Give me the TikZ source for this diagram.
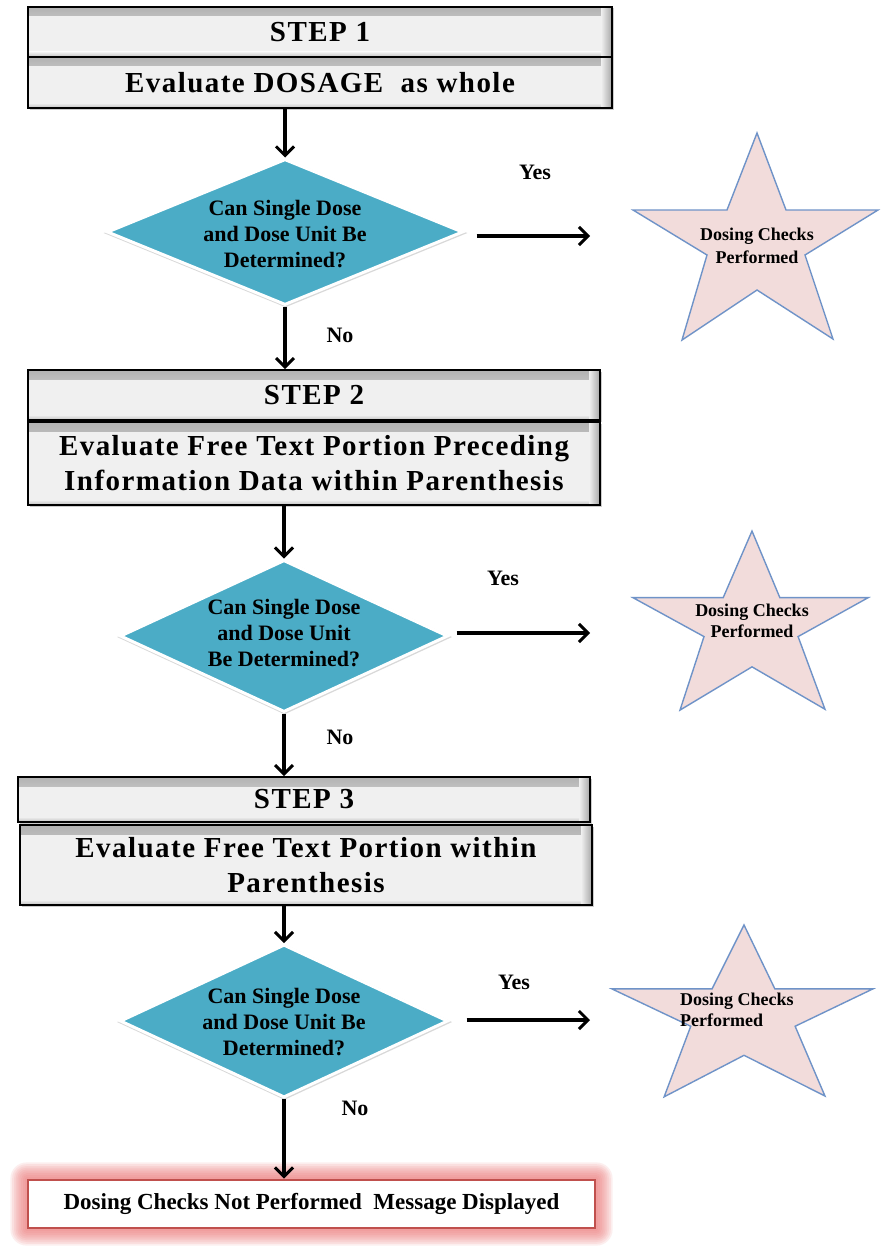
\documentclass[tikz,border=0pt]{standalone}
\usepackage{fontspec}
\setmainfont{Liberation Serif}
\newfontfamily\spacedfont[LetterSpace=5]{Liberation Serif}
\usetikzlibrary{arrows.meta,shapes.geometric,shadows,calc}
\pgfdeclarelayer{background}
\pgfsetlayers{background,main}

\definecolor{boxgray}{HTML}{F0F0F0}
\definecolor{decfill}{HTML}{4BACC6}
\definecolor{starfill}{HTML}{F2DCDB}
\definecolor{starline}{HTML}{6F93C8}
\definecolor{alertline}{HTML}{C0504D}
\definecolor{alertglow}{HTML}{EE7C7C}

\tikzset{
  stepbox/.style={draw=black, line width=1.6pt, fill=boxgray, align=center, inner sep=0pt,
    font=\spacedfont\bfseries\fontsize{29}{35}\selectfont,
    drop shadow={shadow xshift=1.5pt, shadow yshift=-1.5pt, opacity=0.4},
    path picture={
      \shade[top color=black!30, bottom color=boxgray]
        (path picture bounding box.north west) rectangle ($(path picture bounding box.north east)+(0,9)$);
      \shade[left color=boxgray, right color=black!35]
        ($(path picture bounding box.north east)+(-11,0)$) rectangle (path picture bounding box.south east);
      \shade[top color=boxgray, bottom color=black!25]
        ($(path picture bounding box.south west)+(0,-5)$) rectangle ($(path picture bounding box.south east)+(-11,0)$);}},
  decision/.style={diamond, fill=decfill, draw=white, line width=3pt, inner sep=0pt,
    drop shadow={shadow xshift=0.5pt, shadow yshift=-1pt, shadow scale=1.025, opacity=0.3}},
  decisiontext/.style={align=center, inner sep=0pt, font=\bfseries\fontsize{22}{26}\selectfont},
  startext/.style={inner sep=0pt, font=\bfseries\fontsize{18}{23}\selectfont},
  answer/.style={inner sep=0pt, font=\bfseries\fontsize{22}{26}\selectfont},
  flow/.style={line width=3.2pt, -{Straight Barb[length=9pt,width=18pt,line width=3pt]}},
  alertbox/.style={draw=alertline, line width=2.8pt, fill=white, inner sep=0pt,
    font=\bfseries\fontsize{23}{27}\selectfont},
  checkstar/.pic={
    \draw[draw=starline, line width=1.4pt, fill=starfill, line join=miter]
      (0,-107) -- (29,-30) -- (121,-30) -- (48,15) -- (76,99) -- (0,50)
      -- (-75,100) -- (-50,15) -- (-124,-30) -- (-30,-30) -- cycle;}
}

\begin{document}
\begin{tikzpicture}[x=1pt, y=-1pt]
\useasboundingbox (0,0) rectangle (882,1247);

% step 1
\node[stepbox, minimum width=584, minimum height=50] (h1) at (320,32) {STEP 1};
\node[stepbox, minimum width=584, minimum height=51] (b1) at (320,82.5) {Evaluate DOSAGE~ as whole};

% decision 1
\node[decision, minimum width=356, minimum height=146] (d1) at (285,232) {};
\node[decisiontext] (d1t) at (285,234) {Can Single Dose\\and Dose Unit Be\\Determined?};
\pic at (757,240) {checkstar};
\node[startext, align=center] (s1) at (757,246) {Dosing Checks\\Performed};
\node[answer] (yes1) at (535,172) {Yes};
\node[answer] (no1) at (340,335) {No};

% step 2
\node[stepbox, minimum width=572, minimum height=50] (h2) at (314,395) {STEP 2};
\node[stepbox, minimum width=572, minimum height=83] (b2) at (314,463.5)
  {Evaluate Free Text Portion Preceding\\Information Data within Parenthesis};

% decision 2
\node[decision, minimum width=328, minimum height=152] (d2) at (284,636) {};
\node[decisiontext] (d2t) at (284,633) {Can Single Dose\\and Dose Unit\\Be Determined?};
\pic[xscale=0.96, yscale=0.865] at (752,623.6) {checkstar};
\node[startext, align=center, font=\bfseries\fontsize{18}{21}\selectfont] (s2) at (752,621) {Dosing Checks\\Performed};
\node[answer] (yes2) at (503,578) {Yes};
\node[answer] (no2) at (340,737) {No};

% step 3
\node[stepbox, minimum width=572, minimum height=45] (h3) at (304,799.5) {STEP 3};
\node[stepbox, minimum width=572, minimum height=80] (b3) at (306,865)
  {Evaluate Free Text Portion within\\Parenthesis};

% decision 3
\node[decision, minimum width=328, minimum height=153] (d3) at (284,1021) {};
\node[decisiontext] (d3t) at (284,1022) {Can Single Dose\\and Dose Unit Be\\Determined?};
\pic[xscale=1.065, yscale=0.83] at (744,1013.8) {checkstar};
\node[startext, align=left, anchor=west, font=\bfseries\fontsize{18}{21}\selectfont] (s3) at (680,1010) {Dosing Checks\\Performed};
\node[answer] (yes3) at (514,982) {Yes};
\node[answer] (no3) at (355,1108) {No};

% final outcome with soft red glow behind it
\node[alertbox, minimum width=567, minimum height=48] (fin) at (311.5,1204)
  {Dosing Checks Not Performed~ Message Displayed};
\begin{pgfonlayer}{background}
  \fill[white] (0,0) rectangle (882,1247);
  \foreach \g in {1,...,9}
    \fill[alertglow, opacity=0.13, rounded corners=\g*1.8pt]
      ($(fin.north west)+(-\g*1.8,-\g*1.8)$) rectangle ($(fin.south east)+(\g*1.8,\g*1.8)$);
\end{pgfonlayer}

% connectors
\coordinate (y1) at (590,236);
\coordinate (y2) at (590,633);
\coordinate (y3) at (590,1020);
\draw[flow] (b1.south -| d1.north) -- (d1.north);
\draw[flow] (d1.south) -- (d1.south |- h2.north);
\draw[flow] (b2.south -| d2.north) -- (d2.north);
\draw[flow] (d2.south) -- (d2.south |- h3.north);
\draw[flow] (b3.south -| d3.north) -- (d3.north);
\draw[flow] (d3.south) -- (d3.south |- fin.north);
\draw[flow] ($(d1.east)+(12,4)$) -- (y1);
\draw[flow] ($(d2.east)+(7,-3)$) -- (y2);
\draw[flow] ($(d3.east)+(17,-1)$) -- (y3);
\end{tikzpicture}
\end{document}
